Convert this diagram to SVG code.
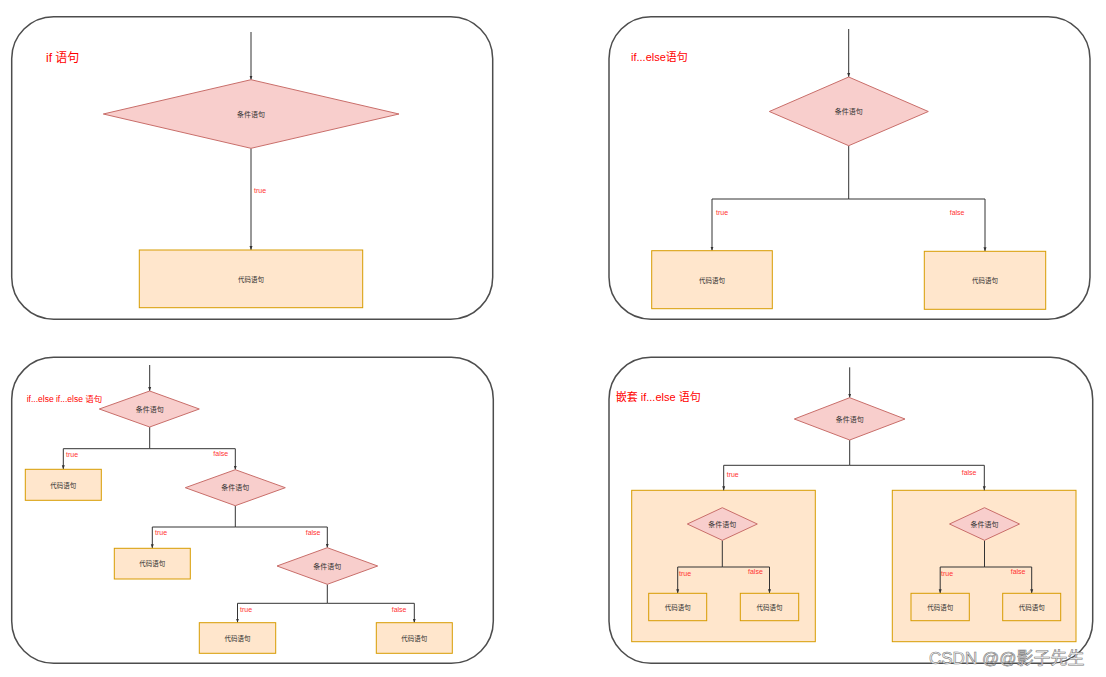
<svg xmlns="http://www.w3.org/2000/svg" width="1106" height="677" viewBox="0 0 1106 677">
<style>
text{font-family:"Liberation Sans","Noto Sans CJK SC",sans-serif;}
.panel{fill:#fff;stroke:#4d4d4d;stroke-width:1.5;}
.dia{fill:#f8cecc;stroke:#c96e6a;stroke-width:1;}
.box{fill:#ffe6cc;stroke:#d79b00;stroke-width:1;}
.title{fill:#ff0000;}
.lbl{fill:#333;text-anchor:middle;dominant-baseline:central;}
.c7{font-size:7px;}
.c6{font-size:6.5px;}
.el{fill:#ff3333;font-size:7px;}
.edge{fill:none;stroke:#333;stroke-width:1;}
.ea{marker-end:url(#arr);}
.wm{fill:#fff;stroke:#777;stroke-width:0.6;font-size:17px;}
</style>
<defs>
<marker id="arr" viewBox="0 0 8 8" refX="8" refY="4" markerWidth="4" markerHeight="4" markerUnits="userSpaceOnUse" orient="auto">
<path d="M0,1 L8,4 L0,7 z" fill="#333"/>
</marker>
</defs>
<rect width="1106" height="677" fill="#fff"/>

<g id="panel1">
<rect class="panel" x="11.7" y="16.7" width="481" height="302.5" rx="42" ry="42"/>
<text class="title" x="46" y="62" font-size="12">if 语句</text>
</g>
<g id="panel2">
<rect class="panel" x="609" y="16.7" width="481" height="302.5" rx="42" ry="42"/>
<text class="title" x="631" y="61" font-size="11">if...else语句</text>
</g>
<g id="panel3">
<rect class="panel" x="11.7" y="357.3" width="481.6" height="306" rx="42" ry="42"/>
<text class="title" x="26.7" y="401.5" font-size="8.5">if...else if...else 语句</text>
</g>
<g id="panel4">
<rect class="panel" x="609" y="357.3" width="483.7" height="306" rx="42" ry="42"/>
<text class="title" x="615.7" y="401" font-size="11">嵌套 if...else 语句</text>
</g>

<g id="p4-group-left"><rect class="box" x="631.7" y="490.3" width="183.6" height="151.4"/></g>
<g id="p4-group-right"><rect class="box" x="892.3" y="490.3" width="183.7" height="151.4"/></g>

<g id="connectors">
<path class="edge ea" d="M251,32 V79.7"/>
<path class="edge ea" d="M251,148.3 V250"/>
<path class="edge ea" d="M848.7,29 V77"/>
<path class="edge ea" d="M848.7,145.7 V199 H712 V250.7"/>
<path class="edge ea" d="M848.7,199 H985 V251.3"/>
<path class="edge ea" d="M149.7,365 V391"/>
<path class="edge ea" d="M149.7,427 V448.7 H63.3 V469.3"/>
<path class="edge ea" d="M149.7,448.7 H235.3 V469.7"/>
<path class="edge ea" d="M235.3,505.7 V527 H152.3 V548.3"/>
<path class="edge ea" d="M235.3,527 H327.3 V547.7"/>
<path class="edge ea" d="M327.3,584.3 V603.3 H237.5 V622.7"/>
<path class="edge ea" d="M327.3,603.3 H414.3 V622.7"/>
<path class="edge ea" d="M849.7,367.3 V397.7"/>
<path class="edge ea" d="M849.7,440 V465.3 H723.7 V490.3"/>
<path class="edge ea" d="M849.7,465.3 H984.3 V490.3"/>
<path class="edge ea" d="M722.3,540.3 V567 H677.7 V593.3"/>
<path class="edge ea" d="M722.3,567 H769.5 V593.3"/>
<path class="edge ea" d="M984.5,540.3 V567 H940.2 V593.3"/>
<path class="edge ea" d="M984.5,567 H1031.7 V593.3"/>
<text class="el" x="254" y="193">true</text>
<text class="el" x="716" y="214.5">true</text>
<text class="el" x="949.7" y="214.5">false</text>
<text class="el" x="66" y="456.5">true</text>
<text class="el" x="213.3" y="455.5">false</text>
<text class="el" x="155" y="534.5">true</text>
<text class="el" x="305.7" y="534.5">false</text>
<text class="el" x="240" y="611.5">true</text>
<text class="el" x="391.7" y="611.5">false</text>
<text class="el" x="726.7" y="476.5">true</text>
<text class="el" x="961.7" y="475">false</text>
<text class="el" x="679" y="575.5">true</text>
<text class="el" x="748" y="573.5">false</text>
<text class="el" x="941" y="575.5">true</text>
<text class="el" x="1010.7" y="573.5">false</text>
</g>

<g id="p1-cond"><polygon class="dia" points="251,79.7 399,114 251,148.3 103.3,114"/><text class="lbl c7" x="251" y="114">条件语句</text></g>
<g id="p1-code"><rect class="box" x="139.3" y="250" width="223.4" height="57.7"/><text class="lbl c6" x="251" y="279">代码语句</text></g>

<g id="p2-cond"><polygon class="dia" points="848.7,77 928.3,111.5 848.7,145.7 769.3,111.5"/><text class="lbl c7" x="848.7" y="111.5">条件语句</text></g>
<g id="p2-code-true"><rect class="box" x="651.7" y="250.7" width="120.6" height="58"/><text class="lbl c6" x="712" y="280">代码语句</text></g>
<g id="p2-code-false"><rect class="box" x="924.3" y="251.3" width="121.4" height="58"/><text class="lbl c6" x="985" y="280">代码语句</text></g>

<g id="p3-cond1"><polygon class="dia" points="149.7,391 199.3,409 149.7,427 99.3,409"/><text class="lbl c7" x="149.7" y="409">条件语句</text></g>
<g id="p3-code1"><rect class="box" x="25.3" y="469.3" width="76" height="31"/><text class="lbl c6" x="63.3" y="485">代码语句</text></g>
<g id="p3-cond2"><polygon class="dia" points="235.3,469.7 285.3,487.7 235.3,505.7 185.3,487.7"/><text class="lbl c7" x="235.3" y="487.7">条件语句</text></g>
<g id="p3-code2"><rect class="box" x="114.3" y="548.3" width="76" height="30.7"/><text class="lbl c6" x="152.3" y="563.5">代码语句</text></g>
<g id="p3-cond3"><polygon class="dia" points="327.3,547.7 377.7,566 327.3,584.3 277,566"/><text class="lbl c7" x="327.3" y="566">条件语句</text></g>
<g id="p3-code3"><rect class="box" x="199.3" y="622.7" width="76.4" height="30.6"/><text class="lbl c6" x="237.5" y="638">代码语句</text></g>
<g id="p3-code4"><rect class="box" x="376.3" y="622.7" width="76" height="30.6"/><text class="lbl c6" x="414.3" y="638">代码语句</text></g>

<g id="p4-cond"><polygon class="dia" points="849.7,397.7 905,419 849.7,440 794.3,419"/><text class="lbl c7" x="849.7" y="419">条件语句</text></g>
<g id="p4-l-cond"><polygon class="dia" points="722.3,507.7 757.3,524 722.3,540.3 687.3,524"/><text class="lbl c7" x="722.3" y="524">条件语句</text></g>
<g id="p4-l-code1"><rect class="box" x="648.7" y="593.3" width="58" height="27.4"/><text class="lbl c6" x="677.7" y="607">代码语句</text></g>
<g id="p4-l-code2"><rect class="box" x="740.3" y="593.3" width="58.4" height="27.4"/><text class="lbl c6" x="769.5" y="607">代码语句</text></g>
<g id="p4-r-cond"><polygon class="dia" points="984.5,507.7 1019.5,524 984.5,540.3 949.5,524"/><text class="lbl c7" x="984.5" y="524">条件语句</text></g>
<g id="p4-r-code1"><rect class="box" x="911" y="593.3" width="58.3" height="27.4"/><text class="lbl c6" x="940.2" y="607">代码语句</text></g>
<g id="p4-r-code2"><rect class="box" x="1002.7" y="593.3" width="58" height="27.4"/><text class="lbl c6" x="1031.7" y="607">代码语句</text></g>

<g id="watermark"><text class="wm" x="929" y="664">CSDN @@影子先生</text></g>
</svg>
